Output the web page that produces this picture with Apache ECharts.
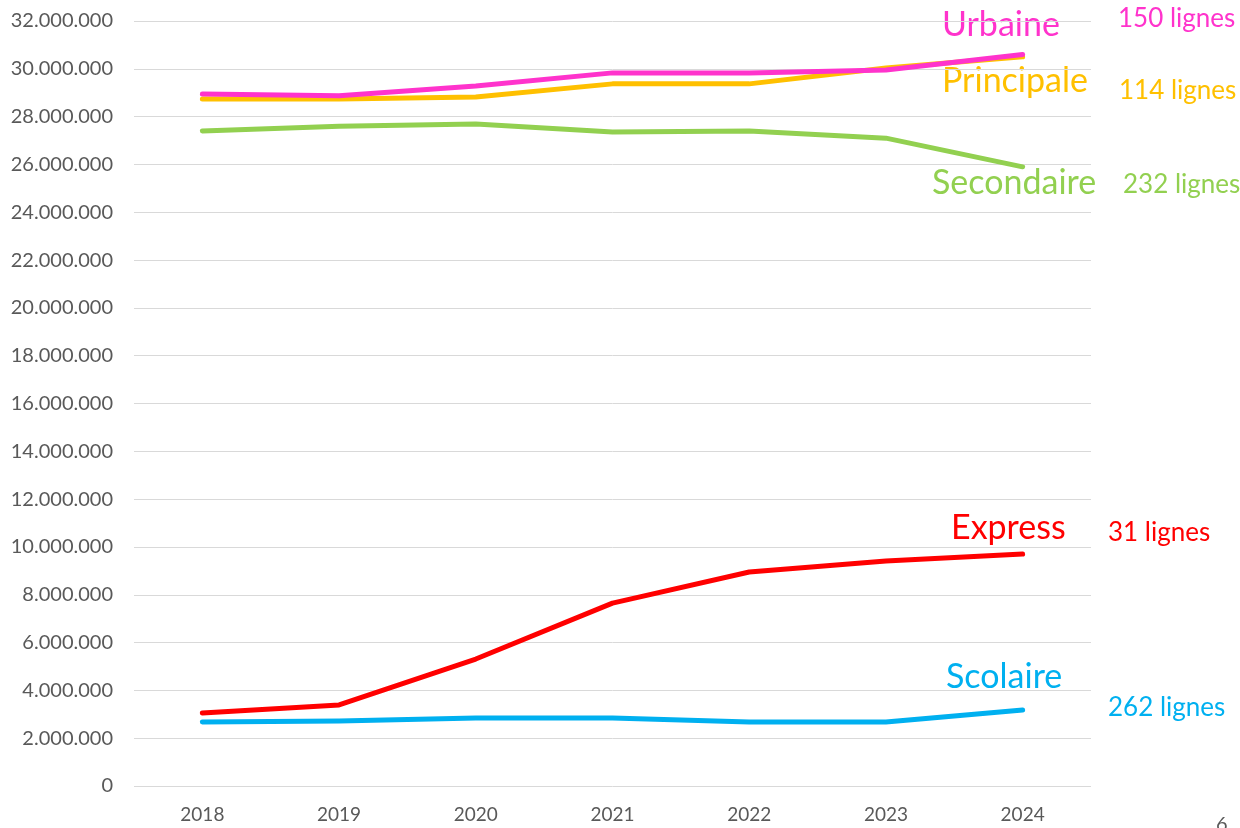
<!DOCTYPE html>
<html>
<head>
<meta charset="utf-8">
<script src="https://cdn.jsdelivr.net/npm/echarts@6/dist/echarts.min.js"></script>
<style>
  html, body { margin: 0; padding: 0; background: #fff; }
  #chart { width: 1240px; height: 828px; }
</style>
</head>
<body>
<div id="chart"></div>
<script>
const years = ['2018', '2019', '2020', '2021', '2022', '2023', '2024']

const urbaine = [28950000, 28870000, 29280000, 29830000, 29830000, 29950000, 30600000]
const principale = [28740000, 28740000, 28820000, 29370000, 29370000, 30030000, 30500000]
const secondaire = [27400000, 27600000, 27690000, 27360000, 27400000, 27100000, 25900000]
const express = [3050000, 3390000, 5310000, 7650000, 8950000, 9410000, 9700000]
const scolaire = [2680000, 2720000, 2840000, 2840000, 2680000, 2680000, 3180000]

const seriesNames = ['Urbaine', 'Principale', 'Secondaire', 'Express', 'Scolaire']
const lineCounts = ['150 lignes', '114 lignes', '232 lignes', '31 lignes', '262 lignes']
const colors = ['#ff33cc', '#ffc000', '#92d050', '#ff0000', '#00b0f0']

const fontFamily = 'Lato, "Open Sans", sans-serif'

const fmt = (v) => String(v).replace(/\B(?=(\d{3})+(?!\d))/g, '.')

const makeLine = (name, data, color, z) => ({
  name,
  type: 'line',
  data,
  z,
  symbol: 'none',
  smooth: false,
  lineStyle: { color, width: 5, cap: 'round', join: 'round' },
  emphasis: { disabled: true }
})

// labels at the end of the lines
const label = (text, x, y, color, size) => ({
  type: 'text',
  left: x,
  top: y,
  style: { text, fill: color, font: `${size}px ${fontFamily}` }
})

const chart = echarts.init(document.getElementById('chart'))

chart.setOption({
  animation: false,
  grid: { left: 134, right: 149, top: 21, bottom: 42 },
  xAxis: {
    type: 'category',
    data: years,
    boundaryGap: true,
    axisLine: { show: false },
    axisTick: { show: false },
    axisLabel: { color: '#595959', fontSize: 19, fontFamily, margin: 19 }
  },
  yAxis: {
    type: 'value',
    min: 0,
    max: 32000000,
    interval: 2000000,
    axisLine: { show: false },
    axisTick: { show: false },
    splitLine: { lineStyle: { color: '#d9d9d9', width: 1 } },
    axisLabel: {
      color: '#595959',
      fontSize: 20,
      fontFamily,
      margin: 21,
      formatter: fmt
    }
  },
  series: [
    makeLine(seriesNames[4], scolaire, colors[4], 2),
    makeLine(seriesNames[3], express, colors[3], 3),
    makeLine(seriesNames[2], secondaire, colors[2], 4),
    makeLine(seriesNames[1], principale, colors[1], 5),
    makeLine(seriesNames[0], urbaine, colors[0], 6)
  ],
  graphic: [
    label(seriesNames[0], 942, 8, colors[0], 34),
    label(lineCounts[0], 1118, 6, colors[0], 26),
    label(seriesNames[1], 942, 64, colors[1], 34),
    label(lineCounts[1], 1119, 78, colors[1], 26),
    label(seriesNames[2], 932, 166, colors[2], 34),
    label(lineCounts[2], 1123, 172, colors[2], 26),
    label(seriesNames[3], 951, 511, colors[3], 34),
    label(lineCounts[3], 1108, 520, colors[3], 26),
    label(seriesNames[4], 946, 660, colors[4], 34),
    label(lineCounts[4], 1108, 695, colors[4], 26),
    label('6', 1216, 815, '#595959', 20)
  ]
})
</script>
</body>
</html>
